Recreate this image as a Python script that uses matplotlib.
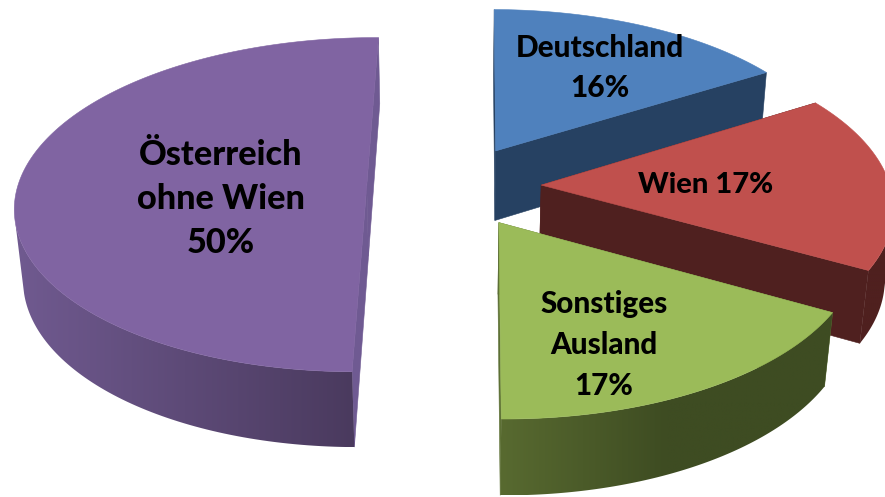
import numpy as np
import matplotlib
matplotlib.use("Agg")
import matplotlib.pyplot as plt
from matplotlib.colors import LinearSegmentedColormap
from matplotlib.patches import Polygon

categories = ["Deutschland", "Wien", "Sonstiges\nAusland", "Österreich\nohne Wien"]
values = [16, 17, 17, 50]
label_texts = ["Deutschland\n16%", "Wien 17%", "Sonstiges\nAusland\n17%", "Österreich\nohne Wien\n50%"]

# styling per slice
top_colors = ["#4f81bd", "#c0504d", "#9bbb59", "#8064a2"]
radial_colors = ["#264162", "#4f201f", "#5d7035", "#6f5a92"]
wall_stops = [
    ["#264162", "#264162"],
    ["#4f201f", "#4f201f"],
    ["#586a30", "#3e4c22", "#3e4c22"],
    ["#705a90", "#4a3a5e"],
]
label_xy = [(600, 68), (706, 185), (604, 345), (221, 199)]
label_pt = [21.4, 21, 21.3, 24.7]
label_ls = [1.55, 1.55, 1.55, 1.45]

# camera of the 3-D pie
CX, CY, A, B, P, EXPLODE, DEPTH, Q = 454, 186, 349, 165, 0.114, 0.25, 72, 0.02
ROTATION = np.radians(0.5)
SILHOUETTE = -0.2  # depth on the rim where the wall becomes visible


def project(X, Y, lower=False):
    w = 1 + P * Y + (Q if lower else 0)
    return CX + A * X / w, CY - B * Y / w + (DEPTH / w if lower else 0)


fig = plt.figure(figsize=(8.85, 4.97), dpi=100)
ax = fig.add_axes([0, 0, 1, 1])
ax.axis("off")

fractions = np.array(values, dtype=float) / sum(values)
ends = np.cumsum(fractions) * 2 * np.pi + ROTATION
starts = ends - fractions * 2 * np.pi


def poly(points, color, z):
    ax.add_patch(Polygon(points, closed=True, facecolor=color, edgecolor=color,
                         linewidth=0.4, zorder=z))


order = [3, 0, 1, 2]  # back to front
for rank, i in enumerate(order):
    mid = (starts[i] + ends[i]) / 2
    ox, oy = EXPLODE * np.sin(mid), EXPLODE * np.cos(mid)
    th = np.linspace(starts[i], ends[i], 181)
    X, Y = ox + np.sin(th), oy + np.cos(th)
    tx, ty = project(X, Y)
    bx, by = project(X, Y, lower=True)
    z = 10 * (rank + 1)

    # radial cut faces
    ax0, ay0 = project(ox, oy)
    ax1, ay1 = project(ox, oy, lower=True)
    for k in (0, -1):
        poly([(ax0, ay0), (tx[k], ty[k]), (bx[k], by[k]), (ax1, ay1)], radial_colors[i], z)

    # outer wall: only the part facing the viewer, with a horizontal gradient
    front = np.cos(th) <= SILHOUETTE
    if front.sum() > 1:
        wall = list(zip(tx[front], ty[front])) + list(zip(bx[front][::-1], by[front][::-1]))
        cmap = LinearSegmentedColormap.from_list(f"wall{i}", wall_stops[i])
        x0, x1 = min(bx[front].min(), tx[front].min()), max(bx[front].max(), tx[front].max())
        y0, y1 = min(ty[front].min(), by[front].min()), max(ty[front].max(), by[front].max())
        image = ax.imshow(np.linspace(0, 1, 256)[None, :], cmap=cmap, aspect="auto",
                          extent=(x0, x1, y1, y0), zorder=z + 1)
        clip = Polygon(wall, closed=True, transform=ax.transData)
        image.set_clip_path(clip)

    # top face
    poly([(ax0, ay0)] + list(zip(tx, ty)), top_colors[i], z + 2)

ax.set_xlim(0, 885)
ax.set_ylim(497, 0)

for text, (x, y), pt, ls in zip(label_texts, label_xy, label_pt, label_ls):
    ax.text(x, y, text, ha="center", va="center", fontsize=pt, fontweight="black",
            family=["Lato", "DejaVu Sans"], color="black", linespacing=ls, zorder=100,
            multialignment="center")

fig.savefig("out.png", dpi=100, facecolor="white")
